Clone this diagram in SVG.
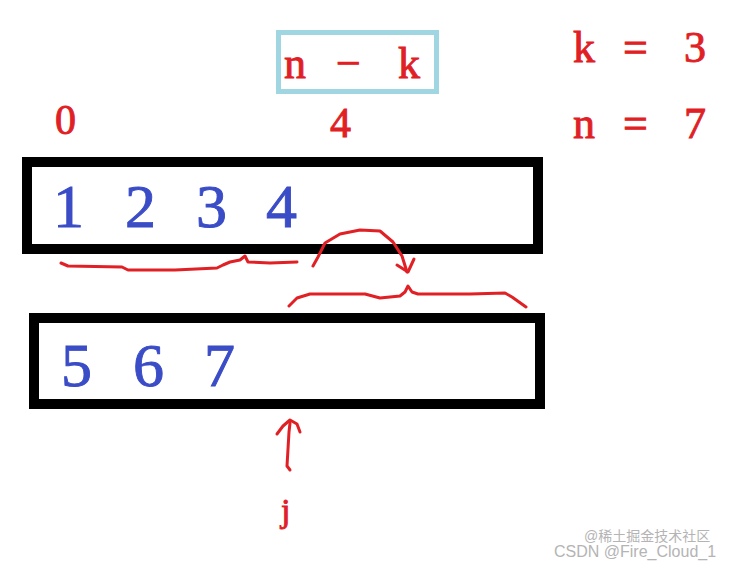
<svg xmlns="http://www.w3.org/2000/svg" width="736" height="567" viewBox="0 0 736 567">
<style>
.red{fill:#e02024;stroke:#e02024;stroke-width:0.9;font-family:"Liberation Serif","DejaVu Serif",serif}
.blue{fill:#3a4cc6;stroke:#3a4cc6;stroke-width:0.9;font-family:"Liberation Serif","DejaVu Serif",serif;font-size:62px}
.box{fill:none;stroke:#000;stroke-width:10}
.ink{fill:none;stroke:#e02024;stroke-width:3;stroke-linecap:round;stroke-linejoin:round}
</style>
<rect width="736" height="567" fill="#fff"/>
<g id="nk">
<rect x="278.5" y="32.5" width="158" height="59" fill="none" stroke="#9fd6e2" stroke-width="5"/>
<text class="red" x="284" y="78" font-size="44">n</text>
<text class="red" x="336" y="78" font-size="44">−</text>
<text class="red" x="398" y="78" font-size="44">k</text>
</g>
<g id="params">
<text class="red" x="573" y="62" font-size="44">k</text>
<text class="red" x="623" y="62" font-size="44">=</text>
<text class="red" x="684" y="62" font-size="44">3</text>
<text class="red" x="573" y="138" font-size="44">n</text>
<text class="red" x="623" y="138" font-size="44">=</text>
<text class="red" x="684" y="138" font-size="44">7</text>
</g>
<g id="indices">
<text class="red" x="55" y="134" font-size="42">0</text>
<text class="red" x="330" y="137" font-size="42">4</text>
</g>
<g id="array1">
<rect class="box" x="27" y="162" width="511" height="87"/>
<text class="blue" x="53" y="227">1</text>
<text class="blue" x="125" y="227">2</text>
<text class="blue" x="196" y="227">3</text>
<text class="blue" x="266" y="227">4</text>
</g>
<g id="array2">
<rect class="box" x="34" y="318" width="506" height="86"/>
<text class="blue" x="61" y="386">5</text>
<text class="blue" x="133" y="386">6</text>
<text class="blue" x="204" y="386">7</text>
</g>
<g id="connectors">
<path class="ink" d="M61 263 L68 266 L122 267 L128 270 L175 270 L217 268 L223 265 L230 262 L240 260 L245 256 L248 262 L270 263 L297 262"/>
<path class="ink" d="M313 266 L318 257 L325 243 L340 234 L360 230 L380 231 L393 242 L402 256 L407 272"/>
<path class="ink" d="M397 265 L408 272 L414 259"/>
<path class="ink" d="M289 306 L297 298 L310 294 L365 294 L380 298 L400 296 L405 292 L408 286 L412 292 L418 294 L470 294 L505 293 L512 297 L526 307"/>
<path class="ink" d="M290 470 L287 466 L289 432 L290 423"/>
<path class="ink" d="M277 434 L283 426 L290 420 L297 424 L300 432"/>
<text class="red" x="281" y="522" font-size="34">j</text>
</g>
<g id="watermark" font-family="'Liberation Sans','Noto Sans CJK SC',sans-serif" fill="#b4b4b4">
<text x="584" y="541" font-size="14">@稀土掘金技术社区</text>
<text x="554" y="557" font-size="16">CSDN @Fire_Cloud_1</text>
</g>
</svg>
